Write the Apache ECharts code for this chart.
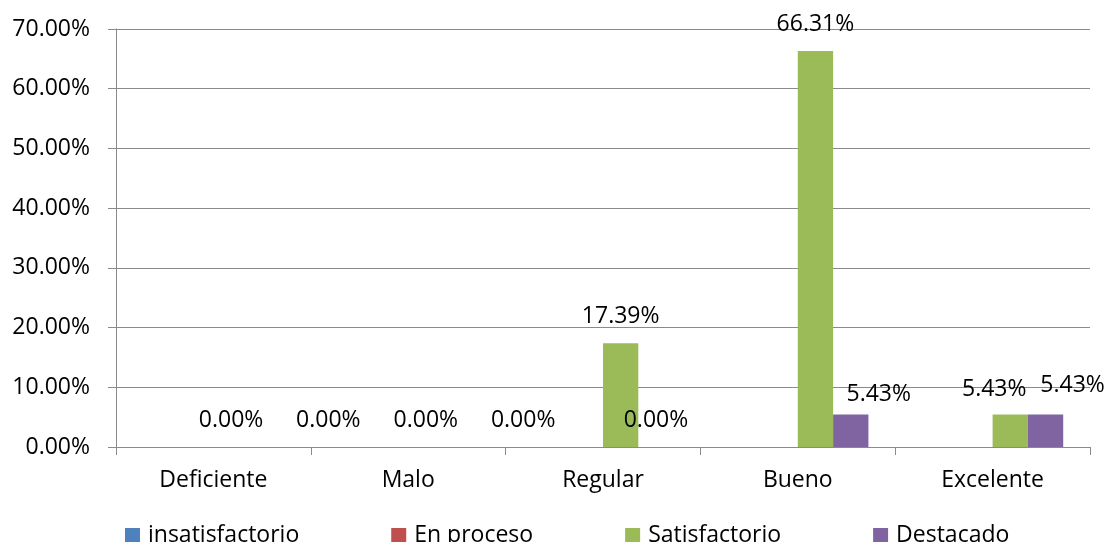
<!DOCTYPE html>
<html>
<head>
<meta charset="utf-8">
<script src="https://cdn.jsdelivr.net/npm/echarts@6/dist/echarts.min.js"></script>
<style>
  html, body { margin: 0; padding: 0; background: #ffffff; }
  #chart { width: 1107px; height: 542px; }
</style>
</head>
<body>
<div id="chart"></div>
<script>
// Niveles de valoración (eje de categorías)
const categories = ['Deficiente', 'Malo', 'Regular', 'Bueno', 'Excelente'];

// Porcentajes por nivel de logro
const insatisfactorio = [0, 0, 0, 0, 0];
const enProceso = [0, 0, 0, 0, 0];
const satisfactorio = [0, 0, 17.39, 66.31, 5.43];
const destacado = [0, 0, 0, 5.43, 5.43];

// Marcas del eje de valores
const yTicks = [0, 10, 20, 30, 40, 50, 60, 70];

// Desplazamientos de etiquetas para evitar solapamientos
const satLabelShift = [[0, 0], [0, 0], [0, 0], [0, 0], [-16, 1]];
const destLabelShift = [[62, 0], [62, 0], [0, 0], [28, 6], [27, -3]];

const FONT = '"Open Sans", "Noto Sans", sans-serif';
const TEXT = '#000000';
const AXIS = '#8a8a8a';
const FS = 23;

function pct(v) { return v.toFixed(2) + '%'; }

function labeled(values, shifts) {
  return values.map((v, i) => ({
    value: v,
    label: { offset: shifts[i] }
  }));
}

const labelStyle = {
  show: true,
  position: 'top',
  distance: 15,
  fontFamily: FONT,
  fontSize: FS,
  color: TEXT,
  formatter: p => pct(p.value)
};

const chart = echarts.init(document.getElementById('chart'), null, { renderer: 'canvas' });

chart.setOption({
  animation: false,
  backgroundColor: '#ffffff',
  textStyle: { fontFamily: FONT },
  grid: { left: 116, right: 17, top: 29, bottom: 95, containLabel: false },
  legend: {
    left: 120,
    top: 519,
    itemWidth: 15,
    itemHeight: 15,
    itemGap: 92,
    icon: 'rect',
    textStyle: { fontFamily: FONT, fontSize: FS, color: TEXT, padding: [0, 0, 0, 3] },
    data: ['insatisfactorio', 'En proceso', 'Satisfactorio', 'Destacado']
  },
  xAxis: {
    type: 'category',
    data: categories,
    axisLine: { show: true, lineStyle: { color: AXIS, width: 1 } },
    axisTick: { show: true, length: 8, lineStyle: { color: AXIS } },
    axisLabel: { fontFamily: FONT, fontSize: FS, color: TEXT, margin: 22 }
  },
  yAxis: {
    type: 'value',
    min: yTicks[0],
    max: yTicks[yTicks.length - 1],
    interval: yTicks[1] - yTicks[0],
    axisLine: { show: true, lineStyle: { color: AXIS, width: 1 } },
    axisTick: { show: true, length: 8, lineStyle: { color: AXIS } },
    splitLine: { show: true, lineStyle: { color: AXIS, width: 1 } },
    axisLabel: { fontFamily: FONT, fontSize: FS, color: TEXT, margin: 26, formatter: v => pct(v) }
  },
  series: [
    {
      name: 'insatisfactorio', type: 'bar', data: insatisfactorio,
      itemStyle: { color: '#4F81BD' }, barGap: '0%', barCategoryGap: '27.5%'
    },
    {
      name: 'En proceso', type: 'bar', data: enProceso,
      itemStyle: { color: '#C0504D' }, barGap: '0%', barCategoryGap: '27.5%'
    },
    {
      name: 'Satisfactorio', type: 'bar', data: labeled(satisfactorio, satLabelShift),
      itemStyle: { color: '#9BBB59' }, barGap: '0%', barCategoryGap: '27.5%',
      label: labelStyle
    },
    {
      name: 'Destacado', type: 'bar', data: labeled(destacado, destLabelShift),
      itemStyle: { color: '#8064A2' }, barGap: '0%', barCategoryGap: '27.5%',
      label: labelStyle
    }
  ]
});
</script>
</body>
</html>
